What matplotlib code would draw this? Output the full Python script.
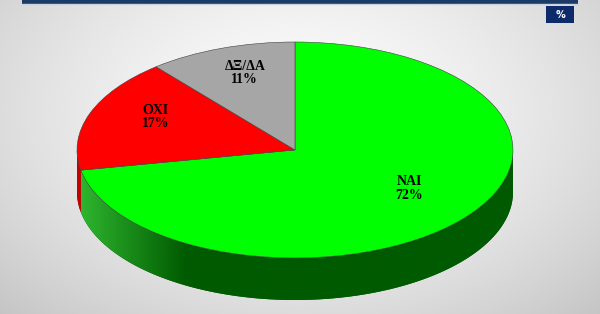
"""3D-style pie (ΝΑΙ / ΟΧΙ / ΔΞ/ΔΑ) on a light grey slide background."""

import numpy as np
import matplotlib
matplotlib.use("Agg")
import matplotlib.pyplot as plt  # noqa: E402
from matplotlib.patches import Polygon, Rectangle  # noqa: E402
from matplotlib.colors import LinearSegmentedColormap  # noqa: E402

labels = ["ΝΑΙ", "ΟΧΙ", "ΔΞ/ΔΑ"]
values = [72, 17, 11]
top_colors = ["#00ff00", "#ff0000", "#a6a6a6"]
side_colors = [("#30b830", "#005a00"), ("#c80000", "#780000"), ("#8c8c8c", "#5a5a5a")]

W, H = 600, 314
DEPTH = 0.39  # thickness of the pie, in units of the vertical radius

fig = plt.figure(figsize=(W / 100, H / 100), dpi=100)

# background: soft radial grey
bg = fig.add_axes([0, 0, 1, 1])
yy, xx = np.mgrid[0:H, 0:W]
r = np.hypot((xx - 300) / 330, (yy - 110) / 220)
v = np.clip(0.985 - 0.14 * r ** 1.6, 0, 1)
bg.imshow(np.dstack([v, v, v]), extent=(0, W, H, 0), aspect="auto", zorder=0)
bg.set_xlim(0, W)
bg.set_ylim(H, 0)
bg.axis("off")

# top banner and "%" tag
bg.add_patch(Rectangle((22, -2), 556, 5.5, fc="#1b3a66", ec="none", zorder=2))
bg.plot([22, 578], [4, 4], color="#c9d2de", lw=1, zorder=2)
bg.add_patch(Rectangle((546, 6), 28, 17, fc="#0d2b6b", ec="none", zorder=2))
bg.text(560, 14.5, "%", color="white", fontsize=7, fontweight="bold",
        ha="center", va="center", zorder=3)

# pie axes: ellipse centre (295,150), rx 218, ry 108, side 42 px deep
ax = fig.add_axes([77 / W, 1 - 300 / H, 436 / W, 258 / H])
ax.patch.set_alpha(0)
texts_lbl = [f"{l}\n{p}%" for l, p in zip(labels, values)]
wedges, texts = ax.pie(values, colors=top_colors, startangle=90, counterclock=False,
                       labels=texts_lbl, labeldistance=0.68, radius=1,
                       wedgeprops=dict(linewidth=0.4, edgecolor="#404040"),
                       textprops=dict(family="Liberation Serif", fontweight="bold",
                                      fontsize=10, color="black", linespacing=1.05))
for t in texts:
    t.set_ha("center")
    t.set_va("center")
    x, y = t.get_position()
    t.set_position((x, y + 0.075))
ax.set_aspect("auto")
ax.axis("off")

# side walls of the front half
for w, (c_light, c_dark) in zip(wedges, side_colors):
    a1, a2 = w.theta1 % 360, w.theta2 % 360
    if a2 <= a1:
        a2 += 360
    for off in (0, 360):
        lo, hi = max(a1, 180 + off), min(a2, 360 + off)
        if hi <= lo:
            continue
        t = np.radians(np.linspace(lo, hi, 120))
        top = np.column_stack([np.cos(t), np.sin(t)])
        bot = np.column_stack([np.cos(t[::-1]), np.sin(t[::-1]) - DEPTH])
        poly = Polygon(np.vstack([top, bot]), closed=True, fc=c_dark, ec="none", zorder=0.5)
        ax.add_patch(poly)
        cmap = LinearSegmentedColormap.from_list("side", [c_light] + [c_dark] * 4)
        grad = np.linspace(0, 1, 256)[None, :]
        im = ax.imshow(grad, extent=(-1, 1, -1 - DEPTH, 1), cmap=cmap,
                       aspect="auto", zorder=0.6)
        im.set_clip_path(poly)

ax.set_xlim(-1, 1)
ax.set_ylim(-1 - DEPTH, 1)

fig.savefig("out.png", dpi=100)
